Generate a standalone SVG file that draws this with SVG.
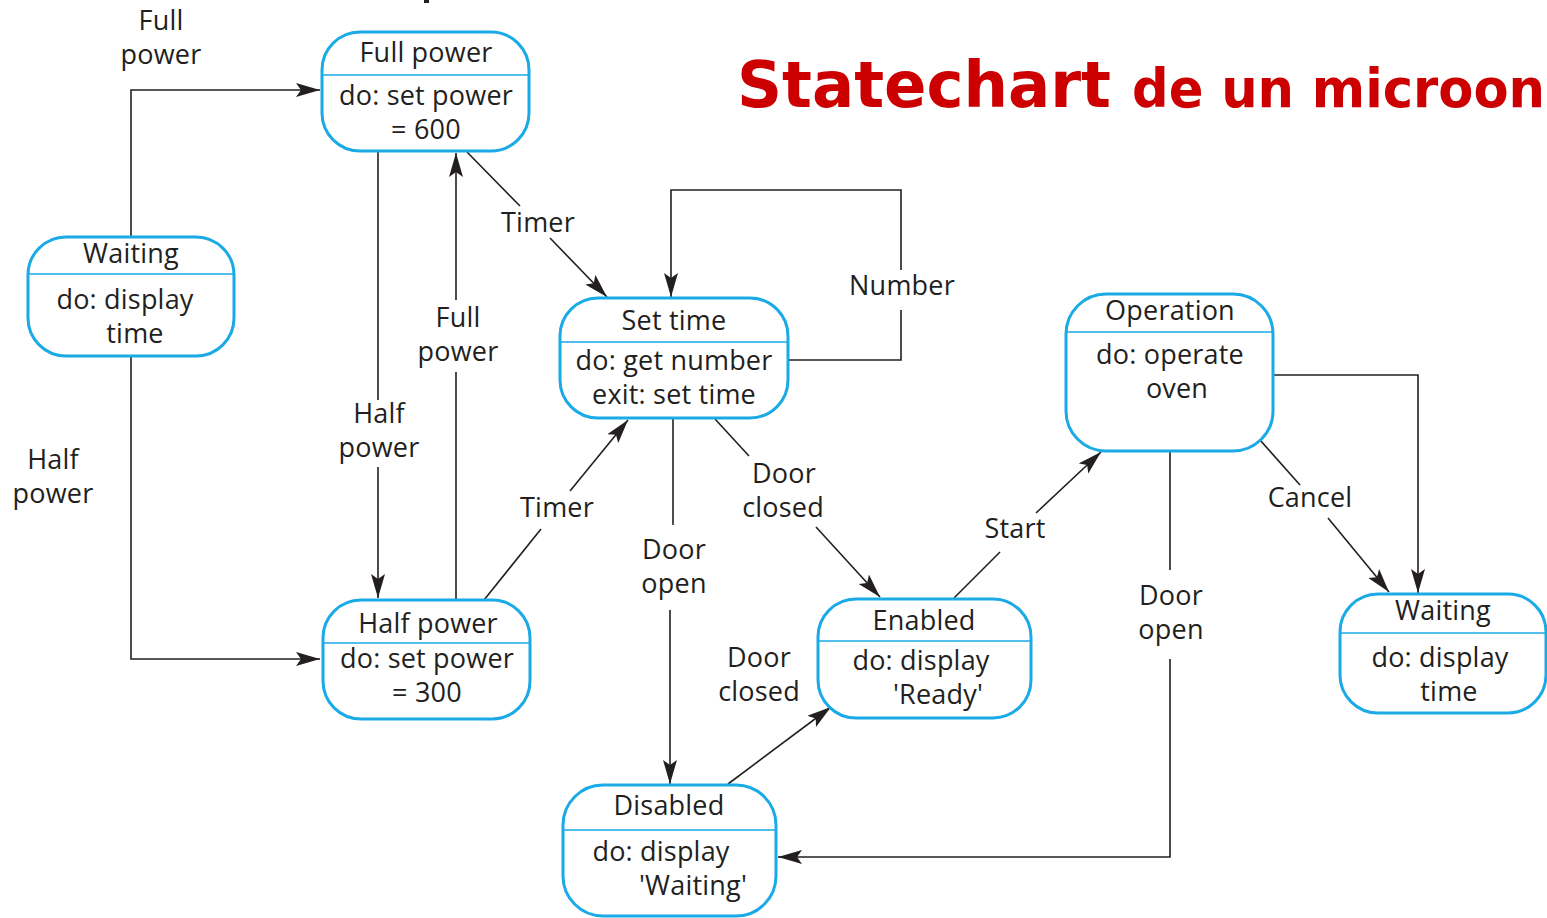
<svg xmlns="http://www.w3.org/2000/svg" width="1547" height="918" viewBox="0 0 1547 918">
  <style>
    .state rect.box { fill: #ffffff; stroke: #1aaae6; stroke-width: 3; }
    .state line.div { stroke: #1aaae6; stroke-width: 1.6; }
    text { font-family: "Open Sans", "Noto Sans", "Liberation Sans", sans-serif; font-size: 27px; letter-spacing: 0.2px; fill: #231f20; text-anchor: middle; }
    .edges path, .edges line { fill: none; stroke: #231f20; stroke-width: 1.6; }
    text.title { font-family: "DejaVu Sans", "Liberation Sans", sans-serif; font-weight: bold; fill: #cc0000; text-anchor: start; letter-spacing: 0; }
    text.big { font-size: 64px; }
    text.sub { font-size: 53px; }
  </style>
  <defs>
    <marker id="arrow" markerUnits="userSpaceOnUse" markerWidth="26" markerHeight="16" refX="24" refY="7" orient="auto">
      <path d="M0,0 L24,7 L0,14 L5,7 Z" fill="#231f20"/>
    </marker>
  </defs>

  <rect width="1547" height="918" fill="#ffffff"/>

  <!-- clipped glyph fragment at the top edge -->
  <rect x="424" y="0" width="5" height="3" fill="#231f20"/>

  <!-- heading -->
  <text class="title big" x="737" y="107" textLength="374" lengthAdjust="spacingAndGlyphs">Statechart</text>
  <text class="title sub" x="1132" y="107" textLength="413" lengthAdjust="spacingAndGlyphs">de un microon</text>

  <!-- transitions -->
  <g class="edges">
    <!-- Waiting -> Full power -->
    <path d="M131,237 V90 H320" marker-end="url(#arrow)"/>
    <!-- Waiting -> Half power -->
    <path d="M131,356 V659 H320" marker-end="url(#arrow)"/>
    <!-- Full power -> Half power -->
    <line x1="378" y1="151" x2="378" y2="400"/>
    <path d="M378,467 V598" marker-end="url(#arrow)"/>
    <!-- Half power -> Full power -->
    <line x1="456" y1="600" x2="456" y2="372"/>
    <path d="M456,300 V153" marker-end="url(#arrow)"/>
    <!-- Full power -> Set time -->
    <line x1="467" y1="152" x2="520" y2="206"/>
    <path d="M550,238 L607,297" marker-end="url(#arrow)"/>
    <!-- Half power -> Set time -->
    <line x1="484" y1="600" x2="541" y2="529"/>
    <path d="M570,491 L628,420" marker-end="url(#arrow)"/>
    <!-- Set time self loop -->
    <path d="M788,360 H901 V310"/>
    <path d="M901,270 V190 H671 V297" marker-end="url(#arrow)"/>
    <!-- Set time -> Disabled -->
    <line x1="673" y1="418" x2="673" y2="525"/>
    <path d="M670,610 V784" marker-end="url(#arrow)"/>
    <!-- Set time -> Enabled -->
    <line x1="715" y1="419" x2="749" y2="456"/>
    <path d="M816,527 L880,597" marker-end="url(#arrow)"/>
    <!-- Disabled -> Enabled -->
    <path d="M728,784 L831,707" marker-end="url(#arrow)"/>
    <!-- Enabled -> Operation -->
    <line x1="954" y1="598" x2="1000" y2="552"/>
    <path d="M1036,513 L1101,452" marker-end="url(#arrow)"/>
    <!-- Operation -> Disabled -->
    <line x1="1170" y1="452" x2="1170" y2="570"/>
    <path d="M1170,659 V857 H778" marker-end="url(#arrow)"/>
    <!-- Operation -> Waiting (cancel) -->
    <line x1="1260" y1="440" x2="1300" y2="485"/>
    <path d="M1328,518 L1389,592" marker-end="url(#arrow)"/>
    <!-- Operation -> Waiting -->
    <path d="M1273,375 H1418 V593" marker-end="url(#arrow)"/>
  </g>

  <!-- transition labels -->
  <g class="labels">
    <text x="161" y="30">Full</text>
    <text x="161" y="64">power</text>
    <text x="53" y="469">Half</text>
    <text x="53" y="503">power</text>
    <text x="379" y="423">Half</text>
    <text x="379" y="457">power</text>
    <text x="458" y="327">Full</text>
    <text x="458" y="361">power</text>
    <text x="538" y="232">Timer</text>
    <text x="557" y="517">Timer</text>
    <text x="902" y="295">Number</text>
    <text x="674" y="559">Door</text>
    <text x="674" y="593">open</text>
    <text x="784" y="483">Door</text>
    <text x="783" y="517">closed</text>
    <text x="759" y="667">Door</text>
    <text x="759" y="701">closed</text>
    <text x="1015" y="538">Start</text>
    <text x="1310" y="507">Cancel</text>
    <text x="1171" y="605">Door</text>
    <text x="1171" y="639">open</text>
  </g>

  <!-- states -->
  <g id="waiting-left" class="state">
    <rect class="box" x="28" y="237" width="206" height="119" rx="38"/>
    <line class="div" x1="29" y1="274" x2="233" y2="274"/>
    <text x="131" y="263">Waiting</text>
    <text x="125" y="309">do: display</text>
    <text x="135" y="343">time</text>
  </g>

  <g id="full-power" class="state">
    <rect class="box" x="322" y="32" width="207" height="119" rx="38"/>
    <line class="div" x1="323" y1="75" x2="528" y2="75"/>
    <text x="426" y="62">Full power</text>
    <text x="426" y="105">do: set power</text>
    <text x="426" y="139">= 600</text>
  </g>

  <g id="half-power" class="state">
    <rect class="box" x="323" y="600" width="207" height="119" rx="38"/>
    <line class="div" x1="324" y1="643" x2="529" y2="643"/>
    <text x="428" y="633">Half power</text>
    <text x="427" y="668">do: set power</text>
    <text x="427" y="702">= 300</text>
  </g>

  <g id="set-time" class="state">
    <rect class="box" x="560" y="298" width="228" height="120" rx="38"/>
    <line class="div" x1="561" y1="342" x2="787" y2="342"/>
    <text x="674" y="330">Set time</text>
    <text x="674" y="370">do: get number</text>
    <text x="674" y="404">exit: set time</text>
  </g>

  <g id="operation" class="state">
    <rect class="box" x="1066" y="294" width="207" height="157" rx="40"/>
    <line class="div" x1="1067" y1="332" x2="1272" y2="332"/>
    <text x="1170" y="320">Operation</text>
    <text x="1170" y="364">do: operate</text>
    <text x="1177" y="398">oven</text>
  </g>

  <g id="enabled" class="state">
    <rect class="box" x="818" y="599" width="213" height="119" rx="38"/>
    <line class="div" x1="819" y1="641" x2="1030" y2="641"/>
    <text x="924" y="630">Enabled</text>
    <text x="921" y="670">do: display</text>
    <text x="938" y="704">'Ready'</text>
  </g>

  <g id="disabled" class="state">
    <rect class="box" x="563" y="785" width="213" height="131" rx="40"/>
    <line class="div" x1="564" y1="830" x2="775" y2="830"/>
    <text x="669" y="815">Disabled</text>
    <text x="661" y="861">do: display</text>
    <text x="693" y="895">'Waiting'</text>
  </g>

  <g id="waiting-right" class="state">
    <rect class="box" x="1340" y="594" width="206" height="119" rx="38"/>
    <line class="div" x1="1341" y1="633" x2="1545" y2="633"/>
    <text x="1443" y="620">Waiting</text>
    <text x="1440" y="667">do: display</text>
    <text x="1449" y="701">time</text>
  </g>
</svg>
